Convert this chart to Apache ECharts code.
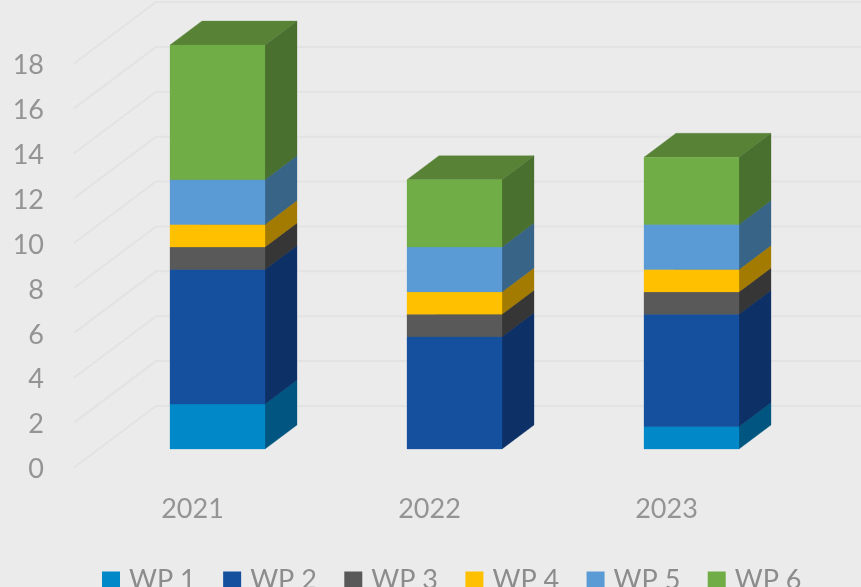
<!DOCTYPE html>
<html><head><meta charset="utf-8">
<style>html,body{margin:0;padding:0;background:#ebebeb}#c{width:861px;height:587px}</style>
<script src="https://cdn.jsdelivr.net/npm/echarts@6/dist/echarts.min.js"></script></head>
<body><div id="c"></div>
<script>
const categories = ['2021','2022','2023'];
const yTicks = [0,2,4,6,8,10,12,14,16,18];
const wp1 = [2,0,1];
const wp2 = [6,5,5];
const wp3 = [1,1,1];
const wp4 = [1,1,1];
const wp5 = [2,2,2];
const wp6 = [6,3,3];
const seriesNames = ['WP 1','WP 2','WP 3','WP 4','WP 5','WP 6'];
const seriesValues = [wp1,wp2,wp3,wp4,wp5,wp6];
const frontColors = ['#0088c9','#15509f','#595959','#ffc000','#5b9bd5','#70ad47'];
const sideColors = ['#005680','#0d3066','#363636','#a37b00','#386488','#49702e'];
const topColors = ['#006a9c','#103d7a','#454545','#c79500','#4679a6','#588235'];
const DX = 32, DY = -24, BAR = 95;

const chart = echarts.init(document.getElementById('c'), null, {renderer:'canvas'});
const cum = categories.map(()=>0);
const barSeries = seriesNames.map((name,si)=>{
  const data = seriesValues[si].map((v,ci)=>{
    const s = cum[ci]; cum[ci]+=v; return [ci,s,cum[ci]];
  }).filter(d=>d[2]>d[1]);
  return {
    name, type:'custom', coordinateSystem:'cartesian2d', data, z:5+si,
    encode:{x:0,y:[1,2]},
    itemStyle:{color:frontColors[si]},
    renderItem(params,api){
      const c = api.value(0);
      const p0 = api.coord([c,api.value(1)]);
      const p1 = api.coord([c,api.value(2)]);
      const l = p0[0]-BAR/2, r = p0[0]+BAR/2, b = p0[1], t = p1[1];
      const poly = (points,fill)=>({type:'polygon',shape:{points},style:{fill,stroke:fill,lineWidth:0.3}});
      return {type:'group',children:[
        poly([[l,t],[r,t],[r+DX,t+DY],[l+DX,t+DY]],topColors[si]),
        poly([[r,b],[r+DX,b+DY],[r+DX,t+DY],[r,t]],sideColors[si]),
        poly([[l,b],[r,b],[r,t],[l,t]],frontColors[si])
      ]};
    }
  };
});
const wallSeries = {
  type:'custom', coordinateSystem:'cartesian2d', silent:true, z:1,
  data:yTicks.map(v=>[0,v]), encode:{x:0,y:1},
  renderItem(params,api){
    const y = api.coord([0,api.value(1)])[1];
    return {type:'polyline',shape:{points:[[74,y+18.5],[156,y-43],[861,y-43]]},
      style:{fill:null,stroke:'#e3e3e3',lineWidth:2}};
  }
};
chart.setOption({
  animation:false,
  backgroundColor:'#ebebeb',
  textStyle:{fontFamily:'Lato'},
  grid:{left:99,right:51,top:45,bottom:138,containLabel:false},
  legend:{data:seriesNames,left:102,top:567,padding:0,itemWidth:18,itemHeight:18,itemGap:27.4,icon:'rect',
    textStyle:{color:'#8c8c8c',fontSize:27,lineHeight:18,fontFamily:'Lato',padding:[0,0,3,4]}},
  xAxis:{type:'category',data:categories,axisLine:{show:false},axisTick:{show:false},splitLine:{show:false},
    axisLabel:{color:'#949494',fontSize:27,fontFamily:'Lato',margin:47,padding:[0,50,0,0]}},
  yAxis:{type:'value',min:0,max:18,interval:2,axisLine:{show:false},axisTick:{show:false},splitLine:{show:false},
    axisLabel:{color:'#949494',fontSize:27,lineHeight:27,fontFamily:'Lato',margin:55,padding:[7,0,0,0],verticalAlign:'top'}},
  series:[wallSeries].concat(barSeries)
});
</script></body></html>
